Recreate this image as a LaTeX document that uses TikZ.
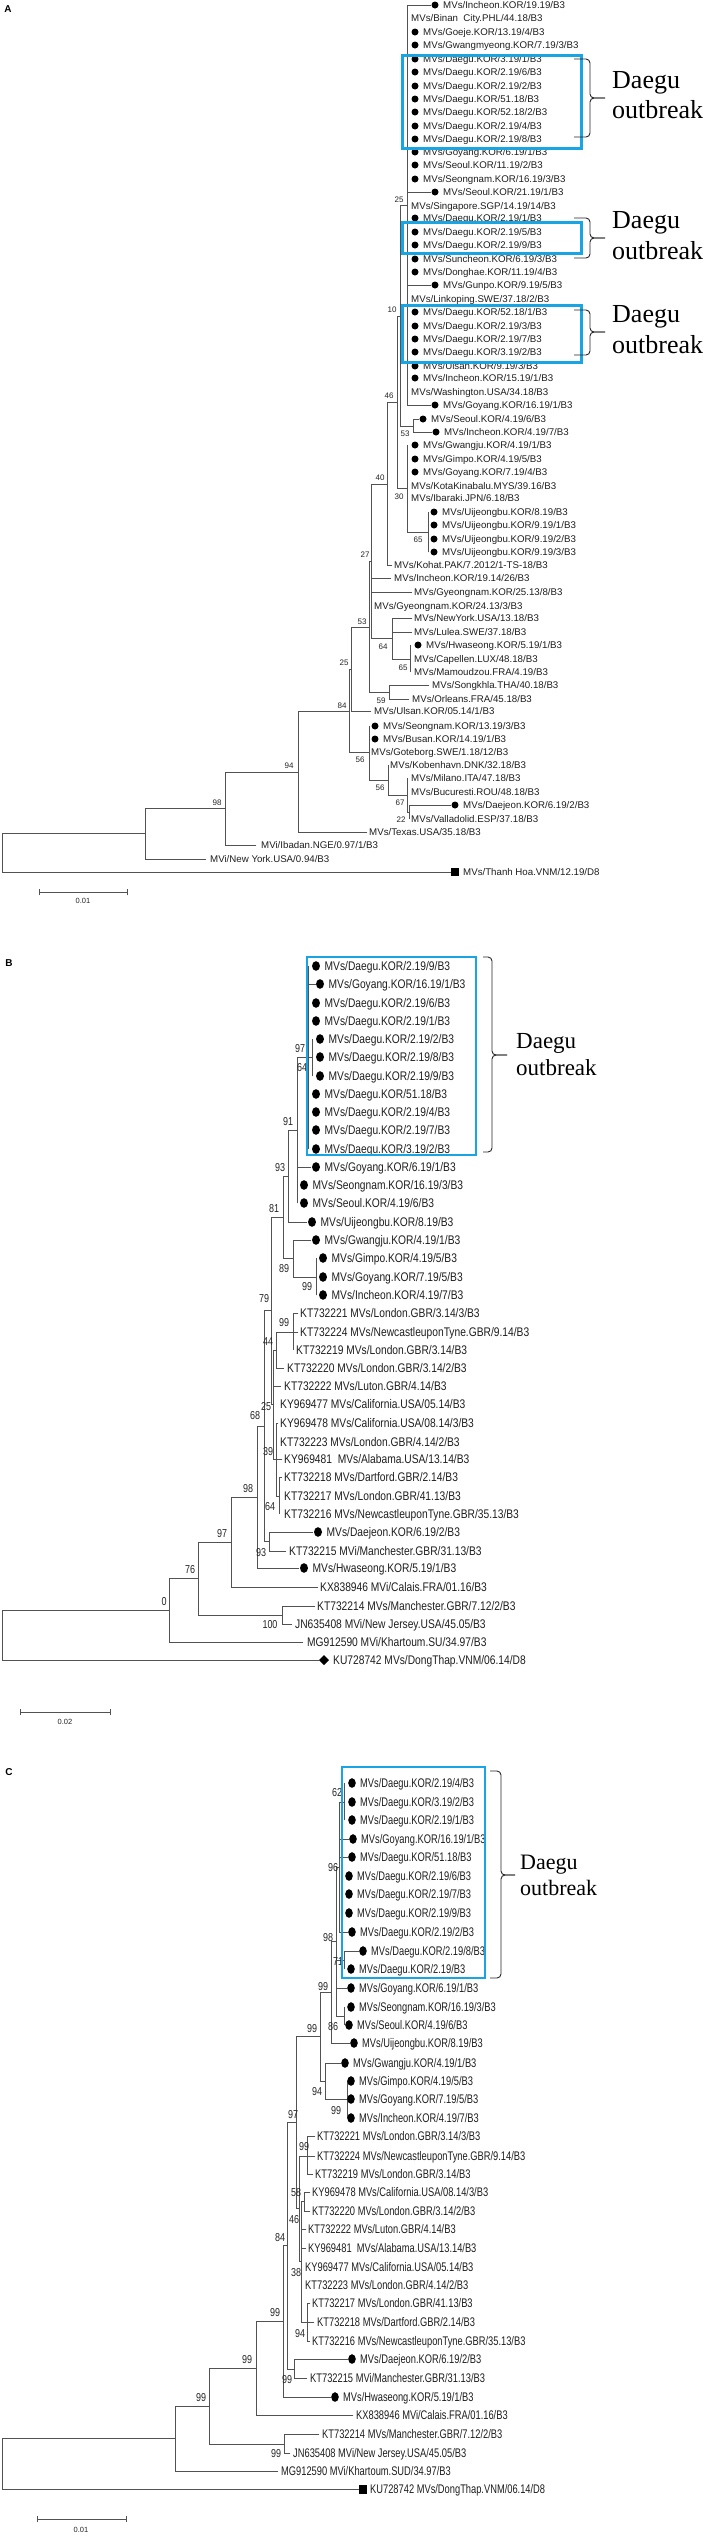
\documentclass[tikz,border=0pt]{standalone}
\usepackage{fontspec}
\usepackage{graphicx}
\setmainfont{Liberation Sans}
\newfontfamily\dgfont{Liberation Serif}
\definecolor{boxblue}{RGB}{25,165,228}
\newcounter{tn}
\newcommand{\brH}[3]{\draw[br] (#1,#3) -- (#2,#3);}
\newcommand{\brV}[3]{\draw[br] (#1,#2) -- (#1,#3);}
\newcommand{\txA}[3]{\stepcounter{tn}\node[ta] (n\arabic{tn}) at (#1,#2) {#3};}
\newcommand{\txB}[3]{\stepcounter{tn}\node[tb] (n\arabic{tn}) at (#1,#2) {\scalebox{0.82}[1]{#3}};}
\newcommand{\txC}[3]{\stepcounter{tn}\node[tb] (n\arabic{tn}) at (#1,#2) {\scalebox{0.745}[1]{#3}};}
\newcommand{\dlA}[3]{\fill[dotc] (#1,#2) circle[radius=3.5];\txA{#1+8}{#2}{#3}}
\newcommand{\dlB}[3]{\fill[dotc] (#1,#2) ellipse[x radius=4,y radius=4.8];\txB{#1+8.5}{#2}{#3}}
\newcommand{\dlC}[3]{\fill[dotc] (#1,#2) ellipse[x radius=3.8,y radius=4.8];\txC{#1+8}{#2}{#3}}
\newcommand{\nmA}[3]{\stepcounter{tn}\node[numa] (n\arabic{tn}) at (#1,#2) {#3};}
\newcommand{\nmB}[3]{\stepcounter{tn}\node[numb] (n\arabic{tn}) at (#1,#2) {\scalebox{0.78}[1]{#3}};}
\newcommand{\cbrace}[6]{\draw[brc] (#1,#4) -| (#2,#6) -- (#3,#6); \draw[brc] (#1,#5) -| (#2,#6) -- (#3,#6);}
\newcommand{\dgtext}[4]{\stepcounter{tn}\node[dgs, font=\dgfont\fontsize{#4}{#4}\selectfont] (n\arabic{tn}) at (#1,#2) {Daegu};
 \stepcounter{tn}\node[dgs, font=\dgfont\fontsize{#4}{#4}\selectfont] (n\arabic{tn}) at (#1,#3) {outbreak};}
\begin{document}
\begin{tikzpicture}[x=1pt,y=-1pt,
 br/.style={draw=black!68, line width=0.9pt, line cap=rect},
 ta/.style={anchor=west, inner sep=0pt, text height=7pt, text depth=0pt, font=\fontsize{9.7}{10}\selectfont, text=black!88},
 tb/.style={anchor=west, inner sep=0pt, text height=9pt, text depth=0pt, font=\fontsize{12.5}{13}\selectfont, text=black!88},
 numa/.style={inner sep=0pt, font=\fontsize{8}{8}\selectfont, text=black!85},
 numb/.style={inner sep=0pt, font=\fontsize{11.5}{12}\selectfont, text=black!85},
 dotc/.style={black},
 boxa/.style={draw=boxblue, line width=3pt},
 brc/.style={draw=black!85, line width=0.9pt, rounded corners=4pt},
 dgs/.style={anchor=base west, inner sep=0pt, text=black},
 lettr/.style={inner sep=0pt, font=\bfseries\fontsize{10}{10}\selectfont},
 scl/.style={inner sep=0pt, font=\fontsize{7.5}{8}\selectfont, text=black!85}]
\fill[white] (0,0) rectangle (708,2536);
\useasboundingbox (0,0) rectangle (708,2536);
% ================= PANEL A =================
\node[lettr] (LA) at (8,9) {A};
\brV{407}{5}{405}
\brH{400}{407}{205}
\brV{400}{205}{427}
\brH{400}{413}{426}
\brV{413}{419}{432}
\brH{397}{400}{316}
\brV{397}{316}{488}
\brH{397}{407}{488}
\brV{407}{445}{532}
\brH{407}{428}{532}
\brV{428}{512}{552}
\brH{387}{397}{402}
\brV{387}{402}{565}
\brH{371}{387}{484}
\brV{371}{484}{638}
\brH{371}{392}{638}
\brV{392}{618}{659}
\brH{392}{410}{659}
\brV{410}{645}{672}
\brH{369}{371}{561}
\brV{369}{561}{692}
\brH{369}{389}{692}
\brV{389}{685}{699}
\brH{351}{369}{627}
\brV{351}{627}{711}
\brH{349}{351}{669}
\brV{349}{669}{752}
\brH{349}{369}{752}
\brV{369}{726}{780}
\brH{369}{388}{780}
\brV{388}{765}{795}
\brH{388}{407}{795}
\brV{407}{778}{812}
\brH{407}{409}{812}
\brV{409}{805}{819}
\brH{298}{349}{711}
\brV{298}{711}{832}
\brH{225}{298}{772}
\brV{225}{772}{845}
\brH{145}{225}{808}
\brV{145}{808}{859}
\brH{2}{145}{833}
\brV{2}{833}{872}
% leaves A
\brH{407}{431}{5}\dlA{435}{5}{MVs/Incheon.KOR/19.19/B3}
\txA{411}{18}{MVs/Binan~~City.PHL/44.18/B3}
\dlA{415}{32}{MVs/Goeje.KOR/13.19/4/B3}
\dlA{415}{45}{MVs/Gwangmyeong.KOR/7.19/3/B3}
\dlA{415}{59}{MVs/Daegu.KOR/3.19/1/B3}
\dlA{415}{72}{MVs/Daegu.KOR/2.19/6/B3}
\dlA{415}{86}{MVs/Daegu.KOR/2.19/2/B3}
\dlA{415}{99}{MVs/Daegu.KOR/51.18/B3}
\dlA{415}{112}{MVs/Daegu.KOR/52.18/2/B3}
\dlA{415}{126}{MVs/Daegu.KOR/2.19/4/B3}
\dlA{415}{139}{MVs/Daegu.KOR/2.19/8/B3}
\dlA{415}{152}{MVs/Goyang.KOR/6.19/1/B3}
\dlA{415}{165}{MVs/Seoul.KOR/11.19/2/B3}
\dlA{415}{179}{MVs/Seongnam.KOR/16.19/3/B3}
\brH{407}{431}{192}\dlA{435}{192}{MVs/Seoul.KOR/21.19/1/B3}
\txA{411}{206}{MVs/Singapore.SGP/14.19/14/B3}
\dlA{415}{218}{MVs/Daegu.KOR/2.19/1/B3}
\dlA{415}{232}{MVs/Daegu.KOR/2.19/5/B3}
\dlA{415}{245}{MVs/Daegu.KOR/2.19/9/B3}
\dlA{415}{259}{MVs/Suncheon.KOR/6.19/3/B3}
\dlA{415}{272}{MVs/Donghae.KOR/11.19/4/B3}
\brH{407}{431}{285}\dlA{435}{285}{MVs/Gunpo.KOR/9.19/5/B3}
\txA{411}{299}{MVs/Linkoping.SWE/37.18/2/B3}
\dlA{415}{312}{MVs/Daegu.KOR/52.18/1/B3}
\dlA{415}{326}{MVs/Daegu.KOR/2.19/3/B3}
\dlA{415}{339}{MVs/Daegu.KOR/2.19/7/B3}
\dlA{415}{352}{MVs/Daegu.KOR/3.19/2/B3}
\dlA{415}{366}{MVs/Ulsan.KOR/9.19/3/B3}
\dlA{415}{378}{MVs/Incheon.KOR/15.19/1/B3}
\txA{411}{392}{MVs/Washington.USA/34.18/B3}
\brH{407}{431}{405}\dlA{435}{405}{MVs/Goyang.KOR/16.19/1/B3}
\brH{413}{419}{419}\dlA{423}{419}{MVs/Seoul.KOR/4.19/6/B3}
\brH{413}{432}{432}\dlA{436}{432}{MVs/Incheon.KOR/4.19/7/B3}
\dlA{415}{445}{MVs/Gwangju.KOR/4.19/1/B3}
\dlA{415}{459}{MVs/Gimpo.KOR/4.19/5/B3}
\dlA{415}{472}{MVs/Goyang.KOR/7.19/4/B3}
\txA{411}{486}{MVs/KotaKinabalu.MYS/39.16/B3}
\txA{411}{498}{MVs/Ibaraki.JPN/6.18/B3}
\dlA{434}{512}{MVs/Uijeongbu.KOR/8.19/B3}
\dlA{434}{525}{MVs/Uijeongbu.KOR/9.19/1/B3}
\dlA{434}{539}{MVs/Uijeongbu.KOR/9.19/2/B3}
\dlA{434}{552}{MVs/Uijeongbu.KOR/9.19/3/B3}
\brH{387}{392}{565}\txA{394}{565}{MVs/Kohat.PAK/7.2012/1-TS-18/B3}
\brH{371}{391}{578}\txA{394}{578}{MVs/Incheon.KOR/19.14/26/B3}
\brH{371}{412}{592}\txA{414}{592}{MVs/Gyeongnam.KOR/25.13/8/B3}
\txA{374}{606}{MVs/Gyeongnam.KOR/24.13/3/B3}
\brH{392}{412}{618}\txA{414}{618}{MVs/NewYork.USA/13.18/B3}
\brH{392}{412}{632}\txA{414}{632}{MVs/Lulea.SWE/37.18/B3}
\dlA{418}{645}{MVs/Hwaseong.KOR/5.19/1/B3}
\txA{414}{659}{MVs/Capellen.LUX/48.18/B3}
\txA{414}{672}{MVs/Mamoudzou.FRA/4.19/B3}
\brH{389}{429}{685}\txA{432}{685}{MVs/Songkhla.THA/40.18/B3}
\brH{389}{409}{699}\txA{412}{699}{MVs/Orleans.FRA/45.18/B3}
\brH{351}{371}{711}\txA{374}{711}{MVs/Ulsan.KOR/05.14/1/B3}
\dlA{375}{726}{MVs/Seongnam.KOR/13.19/3/B3}
\dlA{375}{739}{MVs/Busan.KOR/14.19/1/B3}
\txA{371}{752}{MVs/Goteborg.SWE/1.18/12/B3}
\txA{390}{765}{MVs/Kobenhavn.DNK/32.18/B3}
\txA{411}{778}{MVs/Milano.ITA/47.18/B3}
\txA{411}{792}{MVs/Bucuresti.ROU/48.18/B3}
\brH{409}{451}{805}\dlA{455}{805}{MVs/Daejeon.KOR/6.19/2/B3}
\txA{411}{819}{MVs/Valladolid.ESP/37.18/B3}
\brH{298}{367}{832}\txA{369}{832}{MVs/Texas.USA/35.18/B3}
\brH{225}{256}{845}\txA{261}{845}{MVi/Ibadan.NGE/0.97/1/B3}
\brH{145}{206}{859}\txA{210}{859}{MVi/New York.USA/0.94/B3}
\brH{2}{451}{872}\fill (451,868) rectangle (459,876);\txA{463}{872}{MVs/Thanh Hoa.VNM/12.19/D8}
% numbers A
\nmA{399}{200}{25}
\nmA{392}{310}{10}
\nmA{389}{396}{46}
\nmA{405}{434}{53}
\nmA{380}{478}{40}
\nmA{399}{497}{30}
\nmA{418}{540}{65}
\nmA{365}{555}{27}
\nmA{362}{622}{53}
\nmA{383}{647}{64}
\nmA{344}{663}{25}
\nmA{403}{668}{65}
\nmA{381}{701}{59}
\nmA{342}{706}{84}
\nmA{360}{760}{56}
\nmA{289}{766}{94}
\nmA{380}{788}{56}
\nmA{217}{803}{98}
\nmA{400}{803}{67}
\nmA{401}{820}{22}
% scale A
\brH{39}{127}{892}\brV{39}{889}{895}\brV{127}{889}{895}
\node[scl] (sA) at (83,901) {0.01};
% boxes & braces A
\draw[boxa] (402,55) rectangle (581,148);
\draw[boxa] (402,222) rectangle (581,253);
\draw[boxa] (402,305) rectangle (581,362);
\cbrace{574}{590}{605}{59}{137}{98}
\cbrace{574}{590}{605}{218}{258}{238}
\cbrace{574}{590}{605}{310}{355}{332}
\dgtext{612}{88}{118}{26}
\dgtext{612}{228}{259}{26}
\dgtext{612}{322}{353}{26}
% ================= PANEL B =================
\node[lettr] (LB) at (9,963) {B};
\brV{308}{966}{1149}
\brH{308}{312}{1057}
\brV{312}{1039}{1076}
\brH{297}{308}{1057}
\brV{297}{1057}{1203}
\brH{288}{297}{1130}
\brV{288}{1130}{1222}
\brH{283}{288}{1176}
\brV{283}{1176}{1258}
\brH{283}{293}{1258}
\brV{293}{1240}{1277}
\brH{293}{316}{1277}
\brV{316}{1258}{1295}
\brH{271}{283}{1217}
\brV{271}{1217}{1404}
\brH{271}{273}{1404}
\brV{273}{1350}{1459}
\brH{273}{276}{1350}
\brV{276}{1332}{1368}
\brH{276}{293}{1332}
\brV{293}{1313}{1350}
\brH{273}{276}{1459}
\brV{276}{1423}{1496}
\brH{276}{279}{1496}
\brV{279}{1477}{1514}
\brH{264}{271}{1310}
\brV{264}{1310}{1541}
\brH{264}{269}{1541}
\brV{269}{1532}{1551}
\brH{257}{264}{1426}
\brV{257}{1426}{1568}
\brH{231}{257}{1497}
\brV{231}{1497}{1587}
\brH{198}{231}{1542}
\brV{198}{1542}{1615}
\brH{198}{282}{1615}
\brV{282}{1606}{1624}
\brH{169}{198}{1578}
\brV{169}{1578}{1642}
\brH{2}{169}{1610}
\brV{2}{1610}{1660}
% leaves B
\dlB{316}{966}{MVs/Daegu.KOR/2.19/9/B3}
\brH{308}{316}{984}\dlB{320}{984}{MVs/Goyang.KOR/16.19/1/B3}
\dlB{316}{1003}{MVs/Daegu.KOR/2.19/6/B3}
\dlB{316}{1021}{MVs/Daegu.KOR/2.19/1/B3}
\dlB{320}{1039}{MVs/Daegu.KOR/2.19/2/B3}
\dlB{320}{1057}{MVs/Daegu.KOR/2.19/8/B3}
\dlB{320}{1076}{MVs/Daegu.KOR/2.19/9/B3}
\dlB{316}{1094}{MVs/Daegu.KOR/51.18/B3}
\dlB{316}{1112}{MVs/Daegu.KOR/2.19/4/B3}
\dlB{316}{1130}{MVs/Daegu.KOR/2.19/7/B3}
\dlB{316}{1149}{MVs/Daegu.KOR/3.19/2/B3}
\brH{297}{311}{1167}\dlB{316}{1167}{MVs/Goyang.KOR/6.19/1/B3}
\dlB{304}{1185}{MVs/Seongnam.KOR/16.19/3/B3}
\dlB{304}{1203}{MVs/Seoul.KOR/4.19/6/B3}
\brH{288}{307}{1222}\dlB{312}{1222}{MVs/Uijeongbu.KOR/8.19/B3}
\brH{293}{311}{1240}\dlB{316}{1240}{MVs/Gwangju.KOR/4.19/1/B3}
\dlB{323}{1258}{MVs/Gimpo.KOR/4.19/5/B3}
\dlB{323}{1277}{MVs/Goyang.KOR/7.19/5/B3}
\dlB{323}{1295}{MVs/Incheon.KOR/4.19/7/B3}
\brH{293}{298}{1313}\txB{300}{1313}{KT732221 MVs/London.GBR/3.14/3/B3}
\brH{293}{298}{1332}\txB{300}{1332}{KT732224 MVs/NewcastleuponTyne.GBR/9.14/B3}
\txB{296}{1350}{KT732219 MVs/London.GBR/3.14/B3}
\brH{276}{284}{1368}\txB{287}{1368}{KT732220 MVs/London.GBR/3.14/2/B3}
\brH{273}{281}{1386}\txB{284}{1386}{KT732222 MVs/Luton.GBR/4.14/B3}
\txB{280}{1404}{KY969477 MVs/California.USA/05.14/B3}
\brH{276}{278}{1423}\txB{280}{1423}{KY969478 MVs/California.USA/08.14/3/B3}
\txB{280}{1442}{KT732223 MVs/London.GBR/4.14/2/B3}
\brH{276}{282}{1459}\txB{284}{1459}{KY969481~~MVs/Alabama.USA/13.14/B3}
\brH{279}{282}{1477}\txB{284}{1477}{KT732218 MVs/Dartford.GBR/2.14/B3}
\txB{284}{1496}{KT732217 MVs/London.GBR/41.13/B3}
\txB{284}{1514}{KT732216 MVs/NewcastleuponTyne.GBR/35.13/B3}
\brH{269}{313}{1532}\dlB{318}{1532}{MVs/Daejeon.KOR/6.19/2/B3}
\brH{269}{286}{1551}\txB{289}{1551}{KT732215 MVi/Manchester.GBR/31.13/B3}
\brH{257}{299}{1568}\dlB{304}{1568}{MVs/Hwaseong.KOR/5.19/1/B3}
\brH{231}{318}{1587}\txB{320}{1587}{KX838946 MVi/Calais.FRA/01.16/B3}
\brH{282}{315}{1606}\txB{317}{1606}{KT732214 MVs/Manchester.GBR/7.12/2/B3}
\brH{282}{292}{1624}\txB{295}{1624}{JN635408 MVi/New Jersey.USA/45.05/B3}
\brH{169}{303}{1642}\txB{307}{1642}{MG912590 MVi/Khartoum.SU/34.97/B3}
\brH{2}{319}{1660}\fill (319,1660) -- (324,1655) -- (329,1660) -- (324,1665) -- cycle;
\txB{333}{1660}{KU728742 MVs/DongThap.VNM/06.14/D8}
% numbers B
\nmB{300}{1049}{97}
\nmB{302}{1068}{64}
\nmB{288}{1122}{91}
\nmB{280}{1168}{93}
\nmB{274}{1209}{81}
\nmB{284}{1269}{89}
\nmB{307}{1287}{99}
\nmB{264}{1299}{79}
\nmB{284}{1323}{99}
\nmB{268}{1342}{44}
\nmB{266}{1407}{25}
\nmB{255}{1416}{68}
\nmB{268}{1452}{39}
\nmB{248}{1489}{98}
\nmB{270}{1507}{64}
\nmB{222}{1534}{97}
\nmB{261}{1553}{93}
\nmB{190}{1570}{76}
\nmB{164}{1602}{0}
\nmB{270}{1625}{100}
% scale B
\brH{20}{110}{1712}\brV{20}{1709}{1715}\brV{110}{1709}{1715}
\node[scl] (sB) at (65,1722) {0.02};
\draw[boxa, line width=2.7pt] (307,957) rectangle (476,1155);
\cbrace{483}{492}{507}{957}{1152}{1055}
\dgtext{516}{1048}{1075}{23}
% ================= PANEL C =================
\node[lettr] (LC) at (9,1772) {C};
\brV{344}{1783}{1820}
\brH{339}{344}{1802}
\brV{339}{1802}{1932}
\brH{336}{339}{1867}
\brV{344}{1951}{1969}
\brH{336}{344}{1960}
\brV{344}{2007}{2025}
\brH{336}{344}{2016}
\brV{336}{1867}{2016}
\brH{331}{336}{1941}
\brV{331}{1941}{2043}
\brH{320}{331}{1992}
\brV{320}{1992}{2081}
\brH{320}{325}{2081}
\brV{325}{2063}{2099}
\brH{325}{347}{2099}
\brV{347}{2081}{2118}
\brH{296}{320}{2036}
\brV{296}{2036}{2208}
\brH{296}{299}{2208}
\brV{299}{2156}{2261}
\brH{299}{307}{2156}
\brV{307}{2136}{2174}
\brH{299}{301}{2261}
\brV{301}{2201}{2322}
\brH{301}{304}{2201}
\brV{304}{2192}{2211}
\brH{301}{307}{2322}
\brV{307}{2303}{2341}
\brH{287}{296}{2122}
\brV{287}{2122}{2369}
\brH{287}{294}{2369}
\brV{294}{2359}{2378}
\brH{283}{287}{2245}
\brV{283}{2245}{2397}
\brH{256}{283}{2321}
\brV{256}{2321}{2415}
\brH{209}{256}{2368}
\brV{209}{2368}{2444}
\brH{209}{284}{2444}
\brV{284}{2434}{2453}
\brH{175}{209}{2406}
\brV{175}{2406}{2471}
\brH{2}{175}{2438}
\brV{2}{2438}{2489}
% leaves C
\dlC{352}{1783}{MVs/Daegu.KOR/2.19/4/B3}
\dlC{352}{1802}{MVs/Daegu.KOR/3.19/2/B3}
\dlC{352}{1820}{MVs/Daegu.KOR/2.19/1/B3}
\brH{339}{349}{1839}\dlC{353}{1839}{MVs/Goyang.KOR/16.19/1/B3}
\brH{339}{348}{1857}\dlC{352}{1857}{MVs/Daegu.KOR/51.18/B3}
\dlC{349}{1876}{MVs/Daegu.KOR/2.19/6/B3}
\dlC{349}{1894}{MVs/Daegu.KOR/2.19/7/B3}
\dlC{349}{1913}{MVs/Daegu.KOR/2.19/9/B3}
\brH{339}{348}{1932}\dlC{352}{1932}{MVs/Daegu.KOR/2.19/2/B3}
\brH{344}{359}{1951}\dlC{363}{1951}{MVs/Daegu.KOR/2.19/8/B3}
\dlC{351}{1969}{MVs/Daegu.KOR/2.19/B3}
\brH{336}{347}{1988}\dlC{351}{1988}{MVs/Goyang.KOR/6.19/1/B3}
\dlC{351}{2007}{MVs/Seongnam.KOR/16.19/3/B3}
\dlC{349}{2025}{MVs/Seoul.KOR/4.19/6/B3}
\brH{331}{350}{2043}\dlC{354}{2043}{MVs/Uijeongbu.KOR/8.19/B3}
\brH{325}{341}{2063}\dlC{345}{2063}{MVs/Gwangju.KOR/4.19/1/B3}
\dlC{351}{2081}{MVs/Gimpo.KOR/4.19/5/B3}
\dlC{351}{2099}{MVs/Goyang.KOR/7.19/5/B3}
\dlC{351}{2118}{MVs/Incheon.KOR/4.19/7/B3}
\brH{307}{315}{2136}\txC{317}{2136}{KT732221 MVs/London.GBR/3.14/3/B3}
\brH{307}{315}{2156}\txC{317}{2156}{KT732224 MVs/NewcastleuponTyne.GBR/9.14/B3}
\brH{307}{313}{2174}\txC{315}{2174}{KT732219 MVs/London.GBR/3.14/B3}
\brH{304}{310}{2192}\txC{312}{2192}{KY969478 MVs/California.USA/08.14/3/B3}
\brH{304}{310}{2211}\txC{312}{2211}{KT732220 MVs/London.GBR/3.14/2/B3}
\brH{301}{306}{2229}\txC{308}{2229}{KT732222 MVs/Luton.GBR/4.14/B3}
\brH{301}{306}{2248}\txC{308}{2248}{KY969481~~MVs/Alabama.USA/13.14/B3}
\txC{305}{2267}{KY969477 MVs/California.USA/05.14/B3}
\txC{305}{2285}{KT732223 MVs/London.GBR/4.14/2/B3}
\brH{307}{310}{2303}\txC{312}{2303}{KT732217 MVs/London.GBR/41.13/B3}
\brH{307}{314}{2322}\txC{317}{2322}{KT732218 MVs/Dartford.GBR/2.14/B3}
\brH{307}{310}{2341}\txC{312}{2341}{KT732216 MVs/NewcastleuponTyne.GBR/35.13/B3}
\brH{294}{348}{2359}\dlC{352}{2359}{MVs/Daejeon.KOR/6.19/2/B3}
\brH{294}{307}{2378}\txC{310}{2378}{KT732215 MVi/Manchester.GBR/31.13/B3}
\brH{283}{331}{2397}\dlC{335}{2397}{MVs/Hwaseong.KOR/5.19/1/B3}
\brH{256}{353}{2415}\txC{356}{2415}{KX838946 MVi/Calais.FRA/01.16/B3}
\brH{284}{319}{2434}\txC{322}{2434}{KT732214 MVs/Manchester.GBR/7.12/2/B3}
\brH{284}{290}{2453}\txC{293}{2453}{JN635408 MVi/New Jersey.USA/45.05/B3}
\brH{175}{278}{2471}\txC{281}{2471}{MG912590 MVi/Khartoum.SUD/34.97/B3}
\brH{2}{359}{2489}\fill (359,2485) rectangle (367,2494);
\txC{370}{2489}{KU728742 MVs/DongThap.VNM/06.14/D8}
% numbers C
\nmB{337}{1793}{62}
\nmB{333}{1868}{96}
\nmB{328}{1938}{98}
\nmB{338}{1962}{71}
\nmB{323}{1987}{99}
\nmB{333}{2027}{86}
\nmB{312}{2029}{99}
\nmB{317}{2092}{94}
\nmB{336}{2111}{99}
\nmB{293}{2115}{97}
\nmB{304}{2147}{99}
\nmB{296}{2193}{58}
\nmB{294}{2220}{46}
\nmB{280}{2238}{84}
\nmB{296}{2273}{38}
\nmB{275}{2313}{99}
\nmB{300}{2334}{94}
\nmB{247}{2360}{99}
\nmB{287}{2380}{99}
\nmB{201}{2398}{99}
\nmB{276}{2454}{99}
% scale C
\brH{37}{126}{2519}\brV{37}{2516}{2522}\brV{126}{2516}{2522}
\node[scl] (sC) at (81,2530) {0.01};
\draw[boxa, line width=2.7pt] (342,1767) rectangle (485,1978);
\cbrace{490}{501}{515}{1771}{1978}{1875}
\dgtext{520}{1869}{1895}{22}
\end{tikzpicture}
\end{document}
